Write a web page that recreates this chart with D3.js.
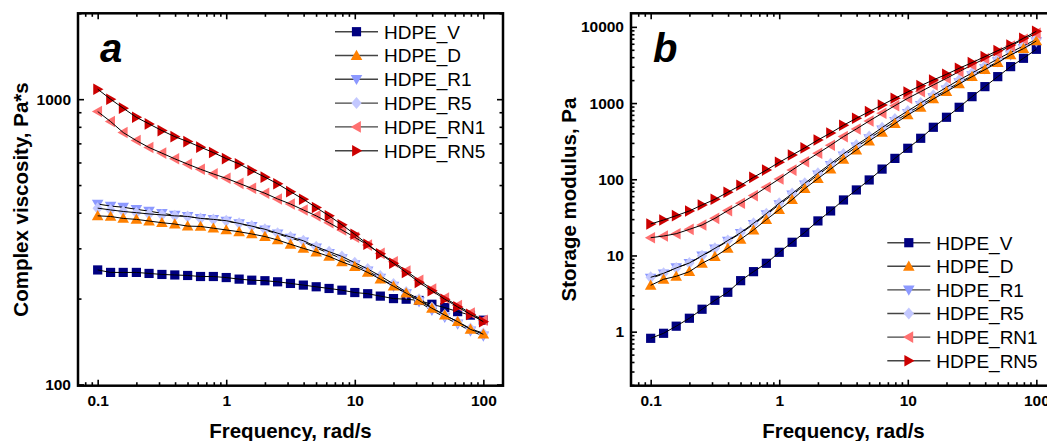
<!DOCTYPE html>
<html>
<head>
<meta charset="utf-8">
<title>HDPE rheology</title>
<script src="https://cdn.jsdelivr.net/npm/d3@7"></script>
<style>
  body { margin: 0; background: #fff; }
  svg { font-family: Arial, 'Liberation Sans', sans-serif; }
  .tick line { stroke: #000; stroke-width: 1.6; }
  .tick text { font-size: 15.5px; font-weight: bold; fill: #000; }
  .axis-title { font-size: 20.5px; font-weight: bold; text-anchor: middle; }
  .panel-letter { font-size: 40px; font-weight: bold; font-style: italic; }
  .legend text { font-size: 19px; }
</style>
</head>
<body>
<svg id="chart" width="1047" height="441"></svg>
<script>
// angular frequency, rad/s
const freq = [0.1, 0.126, 0.158, 0.2, 0.251, 0.316, 0.398, 0.501, 0.631, 0.794,
              1, 1.26, 1.58, 2, 2.51, 3.16, 3.98, 5.01, 6.31, 7.94,
              10, 12.6, 15.8, 20, 25.1, 31.6, 39.8, 50.1, 63.1, 79.4, 100];

const seriesNames = ['HDPE_V', 'HDPE_D', 'HDPE_R1', 'HDPE_R5', 'HDPE_RN1', 'HDPE_RN5'];
const seriesColors = ['#000080', '#ff8000', '#8c99ff', '#c3c8ff', '#ff7070', '#cc0000'];
const seriesShapes = ['square', 'up', 'down', 'diamond', 'left', 'right'];

// complex viscosity, Pa*s
const etaV   = [252, 247, 247, 247, 245, 243, 242, 241, 239, 239, 237, 234, 232, 231, 229, 226, 223, 220, 217, 214, 210, 208, 204, 200, 199, 197, 191, 186, 180, 175, 168];
const etaD   = [390, 388, 382, 379, 374, 369, 365, 359, 358, 353, 348, 343, 337, 330, 321, 310, 300, 291, 281, 269, 259, 247, 234, 221, 209, 197, 185, 175, 166, 156, 150];
const etaR1  = [429, 422, 418, 411, 405, 398, 392, 388, 382, 379, 374, 366, 358, 348, 337, 326, 316, 301, 288, 276, 263, 250, 236, 221, 208, 195, 182, 172, 163, 154, 148];
const etaR5  = [415, 409, 404, 400, 396, 393, 390, 388, 382, 379, 375, 367, 359, 350, 339, 329, 319, 304, 292, 281, 267, 254, 240, 225, 211, 199, 186, 175, 166, 157, 151];
const etaRN1 = [905, 835, 764, 716, 677, 647, 618, 592, 568, 547, 528, 507, 487, 468, 447, 429, 409, 390, 369, 348, 328, 308, 288, 269, 250, 232, 216, 201, 189, 178, 168];
const etaRN5 = [1084, 1000, 930, 864, 819, 776, 739, 710, 679, 650, 619, 593, 562, 533, 505, 474, 446, 417, 390, 363, 336, 310, 287, 266, 247, 228, 213, 199, 187, 176, 166];

// storage modulus, Pa
const gV   = [0.818, 0.952, 1.18, 1.50, 1.97, 2.58, 3.29, 4.67, 6.13, 7.89, 11.0, 14.9, 20.1, 28.4, 38.4, 53.5, 72.4, 97.9, 136, 188, 255, 345, 481, 651, 880, 1214, 1643, 2222, 3007, 3868, 5076];
const gD   = [4.06, 4.87, 5.33, 6.13, 7.89, 9.65, 12.4, 16.3, 21.6, 29.5, 39.9, 54.0, 75.3, 102, 136, 183, 242, 318, 413, 537, 698, 880, 1132, 1413, 1781, 2222, 2746, 3393, 4278, 5179, 6531];
const gR1  = [5.02, 5.72, 6.92, 7.89, 9.85, 12.2, 15.4, 19.5, 25.6, 34.3, 46.5, 62.2, 84.2, 114, 152, 202, 265, 342, 444, 576, 734, 935, 1178, 1485, 1854, 2291, 2830, 3497, 4278, 5233, 6401];
const gR5  = [5.17, 5.83, 6.85, 7.97, 9.95, 12.4, 15.7, 19.9, 26.4, 35.4, 48.4, 64.8, 88.5, 120, 160, 215, 282, 363, 476, 618, 788, 1003, 1265, 1610, 2010, 2483, 3069, 3790, 4638, 5613, 6868];
const gRN1 = [17.1, 18.0, 19.3, 22.0, 25.1, 30.7, 38.8, 48.4, 61.0, 78.5, 101, 132, 170, 219, 279, 363, 457, 582, 734, 925, 1155, 1413, 1728, 2114, 2585, 3162, 3829, 4589, 5613, 6868, 8234];
const gRN5 = [25.9, 29.2, 33.3, 38.4, 46.0, 54.6, 67.5, 83.3, 106, 132, 167, 208, 258, 328, 405, 511, 631, 772, 944, 1155, 1399, 1693, 2010, 2385, 2860, 3393, 4068, 4876, 5787, 7079, 8748];

const xTicks = [0.1, 1, 10, 100];
const etaTicks = [100, 1000];
const gTicks = [1, 10, 100, 1000, 10000];

const svg = d3.select('#chart');
const plotTop = 13.3, plotBottom = 385.7;
const xDomain = [0.0703, 142.2];
const fmt = d3.format('~g');
// order in which series are painted (last on top)
const paintOrder = [0, 2, 3, 1, 4, 5];

function minorTicks(dom) {
  const out = [];
  for (let e = Math.floor(Math.log10(dom[0])); e <= Math.ceil(Math.log10(dom[1])); e++) {
    for (let m = 2; m <= 9; m++) {
      const v = m * Math.pow(10, e);
      if (v >= dom[0] && v <= dom[1]) out.push(v);
    }
  }
  return out;
}

function markerPath(shape) {
  switch (shape) {
    case 'square': return 'M-4.6,-4.6H4.6V4.6H-4.6Z';
    case 'up': return 'M0,-5.8L5.8,4.4L-5.8,4.4Z';
    case 'down': return 'M0,5.8L5.8,-4.4L-5.8,-4.4Z';
    case 'left': return 'M-5.8,0L4.4,-5.8L4.4,5.8Z';
    case 'right': return 'M5.8,0L-4.4,-5.8L-4.4,5.8Z';
    default: return 'M0,-6L5.2,0L0,6L-5.2,0Z';
  }
}

function drawPanel(p) {
  const x = d3.scaleLog().domain(xDomain).range([p.left, p.right]);
  const y = d3.scaleLog().domain(p.yDomain).range([plotBottom, plotTop]);
  const g = svg.append('g');

  const axes = [
    [d3.axisBottom(x).tickValues(xTicks).tickSize(-6).tickPadding(9).tickFormat(fmt), `translate(0,${plotBottom})`],
    [d3.axisBottom(x).tickValues(minorTicks(xDomain)).tickSize(-3.5).tickFormat(''), `translate(0,${plotBottom})`],
    [d3.axisTop(x).tickValues(xTicks).tickSize(-6).tickFormat(''), `translate(0,${plotTop})`],
    [d3.axisTop(x).tickValues(minorTicks(xDomain)).tickSize(-3.5).tickFormat(''), `translate(0,${plotTop})`],
    [d3.axisLeft(y).tickValues(p.yTicks).tickSize(-6).tickPadding(7).tickFormat(fmt), `translate(${p.left},0)`],
    [d3.axisLeft(y).tickValues(minorTicks(p.yDomain)).tickSize(-3.5).tickFormat(''), `translate(${p.left},0)`],
    [d3.axisRight(y).tickValues(p.yTicks).tickSize(-6).tickFormat(''), `translate(${p.right},0)`],
    [d3.axisRight(y).tickValues(minorTicks(p.yDomain)).tickSize(-3.5).tickFormat(''), `translate(${p.right},0)`]
  ];
  axes.forEach(([ax, tr]) => {
    const a = g.append('g').attr('transform', tr).call(ax)
      .attr('font-size', null).attr('font-family', null);
    a.select('.domain').remove();
  });

  // series: markers, then the thin black connecting line over them
  paintOrder.forEach(i => {
    const pts = freq.map((f, j) => [f, p.values[i][j]]);
    const s = g.append('g');
    s.selectAll('path.mk').data(pts).enter().append('path')
      .attr('class', 'mk')
      .attr('d', markerPath(seriesShapes[i]))
      .attr('transform', d => `translate(${x(d[0])},${y(d[1])})`)
      .attr('fill', seriesColors[i]);
    s.append('path')
      .attr('d', d3.line().x(d => x(d[0])).y(d => y(d[1]))(pts))
      .attr('fill', 'none').attr('stroke', '#000').attr('stroke-width', 1);
  });

  g.append('rect')
    .attr('x', p.left).attr('y', plotTop)
    .attr('width', p.right - p.left).attr('height', plotBottom - plotTop)
    .attr('fill', 'none').attr('stroke', '#000').attr('stroke-width', 2.5);

  // legend
  const lg = g.append('g').attr('class', 'legend');
  seriesNames.forEach((name, i) => {
    const ly = p.legendY + i * p.legendStep;
    lg.append('line')
      .attr('x1', p.legendX).attr('x2', p.legendX + 43)
      .attr('y1', ly).attr('y2', ly)
      .attr('stroke', '#444').attr('stroke-width', 1.4);
    lg.append('path')
      .attr('d', markerPath(seriesShapes[i]))
      .attr('transform', `translate(${p.legendX + 21.5},${ly})`)
      .attr('fill', seriesColors[i]);
    lg.append('text')
      .attr('x', p.legendX + 49).attr('y', ly + 6.8)
      .text(name);
  });

  g.append('text').attr('class', 'panel-letter')
    .attr('x', p.left + 22).attr('y', 61.5).text(p.letter);

  g.append('text').attr('class', 'axis-title')
    .attr('x', (p.left + p.right) / 2).attr('y', 437.5)
    .text('Frequency, rad/s');
  g.append('text').attr('class', 'axis-title')
    .attr('transform', `translate(${p.yTitleX},199.5) rotate(-90)`)
    .text(p.yTitle);
}

drawPanel({
  left: 78, right: 503, yDomain: [99, 2000], yTicks: etaTicks,
  values: [etaV, etaD, etaR1, etaR5, etaRN1, etaRN5],
  legendX: 335, legendY: 31.7, legendStep: 23.8,
  letter: 'a', yTitle: 'Complex viscosity, Pa*s', yTitleX: 27.5
});

drawPanel({
  left: 631, right: 1056, yDomain: [0.1954, 15066], yTicks: gTicks,
  values: [gV, gD, gR1, gR5, gRN1, gRN5],
  legendX: 887.3, legendY: 242.7, legendStep: 23.6,
  letter: 'b', yTitle: 'Storage modulus, Pa', yTitleX: 576
});
</script>
</body>
</html>
